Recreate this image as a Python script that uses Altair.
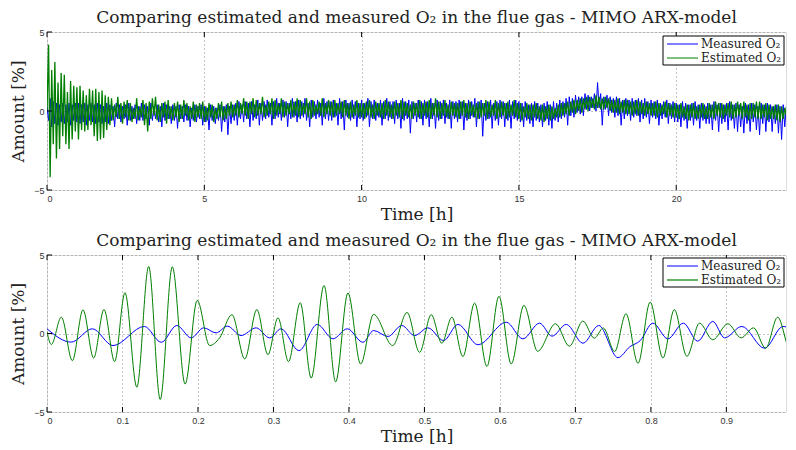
import altair as alt
import pandas as pd

SERIF = "DejaVu Serif"
SANS = "Liberation Sans"
BLUE = "#0000ff"
GREEN = "#007f00"
TITLE = "Comparing estimated and measured O\u2082 in the flue gas - MIMO ARX-model"

# ---------------- top panel: 0 .. 23.5 h, one value every 0.05 h (20 per hour row) ----------------
top_step = 0.05
top_measured = [
    0.3, -0.6, 0.8, -1.0, 0.6, -0.8, 0.5, -0.9, 0.4, -0.7, 0.5, -0.8, 0.4, -0.7, 0.5, -0.9, 0.4, -0.6, 0.5, -0.7,
    0.5, -0.8, 0.4, -0.7, 0.5, -0.9, 0.4, -0.6, 0.5, -0.7, 0.4, -0.8, 0.5, -0.7, 0.4, -0.8, 0.3, -0.7, 0.5, -0.8,
    0.4, -0.6, 0.3, -1.0, 0.5, -0.5, 0.4, -0.7, 0.3, -0.5, 0.4, -0.9, 0.5, -0.6, 0.3, -0.5, 0.4, -0.8, 0.3, -0.6,
    0.5, -0.6, 0.4, -0.5, 0.3, -0.9, 0.5, -0.6, 0.3, -0.5, 0.4, -0.7, 0.3, -1.0, 0.5, -0.6, 0.4, -0.5, 0.3, -0.8,
    0.4, -0.6, 0.3, -1.1, 0.4, -0.5, 0.3, -0.7, 0.4, -0.6, 0.3, -1.0, 0.2, -0.6, 0.4, -0.7, 0.3, -0.5, 0.4, -0.9,
    0.3, -0.7, 0.2, -1.2, 0.4, -0.6, 0.3, -0.8, 0.2, -0.6, 0.4, -1.3, 0.3, -0.7, 0.4, -1.5, 0.3, -0.8, 0.4, -0.6,
    0.5, -0.9, 0.6, -0.5, 0.4, -0.7, 0.6, -0.5, 0.5, -1.0, 0.6, -0.6, 0.4, -0.5, 0.7, -0.9, 0.5, -0.6, 0.6, -0.5,
    0.7, -0.4, 0.5, -0.9, 0.6, -0.5, 0.8, -0.4, 0.5, -0.6, 0.7, -0.4, 0.6, -1.0, 0.5, -0.5, 0.8, -0.4, 0.6, -0.7,
    0.7, -0.5, 0.6, -0.4, 0.8, -0.6, 0.5, -1.0, 0.7, -0.4, 0.6, -0.5, 0.7, -0.4, 0.5, -0.9, 0.8, -0.5, 0.6, -0.6,
    0.6, -0.6, 0.7, -0.4, 0.5, -0.9, 0.8, -0.5, 0.6, -1.2, 0.7, -0.4, 0.5, -0.6, 0.7, -0.5, 0.6, -1.0, 0.5, -0.5,
    0.7, -0.6, 0.5, -0.4, 0.8, -1.0, 0.6, -0.5, 0.7, -0.6, 0.5, -0.4, 0.7, -0.9, 0.6, -0.5, 0.8, -0.6, 0.6, -0.5,
    0.6, -0.8, 0.7, -0.5, 0.5, -1.1, 0.8, -0.6, 0.6, -0.5, 0.7, -1.4, 0.6, -0.5, 0.5, -0.7, 0.7, -0.5, 0.6, -0.9,
    0.7, -0.5, 0.6, -1.0, 0.8, -0.5, 0.5, -1.1, 0.7, -0.6, 0.6, -0.5, 0.7, -0.8, 0.5, -0.5, 0.7, -1.1, 0.6, -0.5,
    0.6, -0.7, 0.7, -0.5, 0.6, -1.2, 0.5, -0.6, 0.7, -0.5, 0.6, -0.4, 0.8, -1.0, 0.6, -0.5, 0.7, -1.6, 0.5, -0.6,
    0.6, -0.5, 0.7, -1.1, 0.5, -0.6, 0.6, -0.9, 0.7, -0.5, 0.6, -1.0, 0.5, -0.6, 0.7, -1.1, 0.6, -0.5, 0.7, -0.6,
    0.6, -0.7, 0.5, -1.0, 0.6, -0.6, 0.4, -0.8, 0.5, -1.0, 0.6, -0.6, 0.5, -0.7, 0.4, -1.0, 0.5, -0.6, 0.6, -0.9,
    0.4, -1.1, 0.6, -0.6, 0.5, -0.7, 0.7, -0.5, 0.6, -0.4, 0.8, -0.9, 0.9, -0.3, 0.8, -0.4, 1.0, -0.1, 0.9, -0.2,
    0.9, -0.3, 1.1, 0.1, 1.0, 0.0, 0.9, 0.2, 1.1, 0.0, 1.8, 0.2, 1.1, -0.9, 0.9, 0.1, 1.0, -0.3, 0.9, -0.1,
    0.8, -0.4, 0.9, -0.3, 0.8, -0.9, 0.7, -0.5, 0.8, -0.3, 0.7, -0.6, 0.8, -0.4, 0.7, -0.3, 0.8, -0.7, 0.7, -0.5,
    0.8, -0.4, 0.6, -0.8, 0.7, -0.4, 0.6, -0.5, 0.7, -0.9, 0.5, -0.5, 0.6, -0.4, 0.7, -0.8, 0.5, -0.5, 0.6, -0.7,
    0.5, -0.7, 0.4, -1.0, 0.6, -0.6, 0.5, -1.1, 0.4, -0.6, 0.5, -0.9, 0.6, -0.6, 0.4, -1.1, 0.5, -0.6, 0.4, -0.8,
    0.5, -0.8, 0.4, -1.2, 0.6, -0.6, 0.4, -1.3, 0.5, -0.8, 0.4, -0.7, 0.5, -1.2, 0.6, -0.6, 0.4, -1.1, 0.5, -1.3,
    0.4, -1.0, 0.3, -1.4, 0.5, -0.8, 0.4, -1.3, 0.5, -0.7, 0.4, -1.2, 0.3, -1.5, 0.5, -0.8, 0.4, -1.3, 0.5, -0.7,
    0.4, -1.3, 0.3, -0.8, 0.4, -1.4, 0.3, -1.8, 0.4, -1.0, 0.3,
]
top_estimated = [
    0.0, 4.2, -4.2, 2.6, -2.1, 3.1, -3.0, 1.8, -2.4, 2.4, -1.6, 2.3, -2.1, 1.2, -2.4, 1.9, -1.8, 1.6, -1.3, 1.5,
    -1.8, 1.6, -1.2, 1.3, -1.3, 1.0, -1.2, 1.4, -0.9, 1.3, -1.6, 1.4, -1.9, 1.2, -1.8, 1.3, -1.7, 1.0, -1.2, 0.9,
    -0.9, 0.8, -0.6, 0.4, -0.4, 0.9, -0.5, 0.5, -0.8, 0.6, -0.4, 0.7, -0.6, 0.5, -0.7, 0.2, -0.5, 0.8, -0.6, 0.3,
    -0.4, 0.7, -0.9, 0.5, -1.3, 0.6, -0.5, 0.8, -0.3, 0.9, -0.6, 0.4, -0.7, 0.5, -0.4, 0.6, -0.8, 0.7, -0.5, 0.3,
    -0.6, 0.5, -0.4, 0.6, -0.7, 0.4, -0.5, 0.7, -0.3, 0.5, -0.6, 0.3, -0.5, 0.6, -0.7, 0.4, -0.4, 0.5, -0.5, 0.6,
    -0.7, 0.3, -0.6, 0.5, -0.4, 0.4, -0.7, 0.2, -0.5, 0.5, -0.4, 0.6, -0.6, 0.3, -0.5, 0.5, -0.3, 0.6, -0.4, 0.4,
    -0.3, 0.7, -0.4, 0.5, -0.2, 0.8, -0.3, 0.6, -0.5, 0.6, -0.2, 0.8, -0.4, 0.7, -0.3, 0.5, -0.2, 0.9, -0.4, 0.4,
    -0.3, 0.6, -0.2, 0.8, -0.5, 0.7, -0.3, 0.5, -0.2, 0.8, -0.4, 0.6, -0.3, 0.5, -0.2, 0.7, -0.4, 0.6, -0.3, 0.8,
    -0.4, 0.7, -0.3, 0.5, -0.2, 0.8, -0.4, 0.6, -0.5, 0.7, -0.3, 0.4, -0.2, 0.6, -0.3, 0.8, -0.4, 0.5, -0.2, 0.7,
    -0.3, 0.6, -0.4, 0.7, -0.3, 0.5, -0.2, 0.6, -0.4, 0.7, -0.3, 0.5, -0.5, 0.6, -0.4, 0.4, -0.3, 0.7, -0.4, 0.5,
    -0.4, 0.5, -0.5, 0.6, -0.3, 0.7, -0.4, 0.4, -0.5, 0.6, -0.3, 0.5, -0.4, 0.5, -0.5, 0.7, -0.3, 0.6, -0.4, 0.4,
    -0.5, 0.6, -0.3, 0.5, -0.4, 0.7, -0.5, 0.6, -0.3, 0.5, -0.4, 0.4, -0.5, 0.6, -0.3, 0.5, -0.4, 0.7, -0.5, 0.5,
    -0.3, 0.6, -0.4, 0.7, -0.5, 0.5, -0.3, 0.8, -0.4, 0.6, -0.5, 0.5, -0.3, 0.7, -0.4, 0.4, -0.5, 0.6, -0.3, 0.5,
    -0.4, 0.5, -0.5, 0.6, -0.3, 0.7, -0.4, 0.5, -0.5, 0.6, -0.3, 0.4, -0.4, 0.5, -0.5, 0.6, -0.4, 0.5, -0.3, 0.7,
    -0.5, 0.6, -0.4, 0.4, -0.3, 0.7, -0.5, 0.5, -0.4, 0.6, -0.3, 0.5, -0.5, 0.6, -0.4, 0.4, -0.3, 0.7, -0.4, 0.5,
    -0.5, 0.5, -0.6, 0.3, -0.4, 0.5, -0.5, 0.4, -0.6, 0.4, -0.4, 0.5, -0.5, 0.3, -0.6, 0.4, -0.7, 0.3, -0.5, 0.4,
    -0.6, 0.3, -0.5, 0.2, -0.4, 0.4, -0.4, 0.5, -0.3, 0.5, -0.2, 0.6, -0.3, 0.6, -0.1, 0.7, -0.2, 0.7, 0.0, 0.8,
    -0.1, 0.8, 0.1, 0.9, 0.0, 0.9, 0.2, 0.8, 0.1, 1.0, 0.2, 0.9, 0.1, 0.8, 0.1, 0.9, 0.2, 0.8, 0.0, 0.7,
    -0.1, 0.7, -0.1, 0.8, -0.2, 0.6, -0.1, 0.7, -0.2, 0.7, -0.2, 0.6, -0.3, 0.6, -0.2, 0.7, -0.3, 0.6, -0.2, 0.5,
    -0.3, 0.6, -0.2, 0.5, -0.3, 0.5, -0.3, 0.6, -0.4, 0.5, -0.3, 0.4, -0.2, 0.6, -0.4, 0.5, -0.3, 0.4, -0.4, 0.5,
    -0.4, 0.4, -0.5, 0.5, -0.4, 0.3, -0.5, 0.4, -0.6, 0.4, -0.4, 0.5, -0.5, 0.3, -0.5, 0.4, -0.4, 0.5, -0.5, 0.3,
    -0.5, 0.5, -0.4, 0.4, -0.5, 0.6, -0.3, 0.5, -0.4, 0.5, -0.5, 0.4, -0.3, 0.5, -0.4, 0.6, -0.5, 0.4, -0.4, 0.6,
    -0.3, 0.5, -0.5, 0.6, -0.4, 0.4, -0.6, 0.5, -0.5, 0.5, -0.4, 0.6, -0.5, 0.6, -0.5, 0.4, -0.4, 0.5, -0.6, 0.4,
    -0.5, 0.3, -0.5, 0.4, -0.6, 0.4, -0.7, 0.3, -0.5, 0.2, -0.3,
]
top_xticks = [0, 5, 10, 15, 20]

# ---------------- bottom panel: first hour, turning points ----------------
bot_measured_t = [
    0.0, 0.032, 0.060, 0.0874, 0.129, 0.1514, 0.172, 0.191, 0.2075, 0.224,
    0.239, 0.257, 0.277, 0.295, 0.310, 0.3338, 0.358, 0.3788, 0.3978, 0.4185,
    0.4327, 0.4517, 0.470, 0.487, 0.5046, 0.5254, 0.5444, 0.571, 0.6084, 0.6305,
    0.6525, 0.669, 0.688, 0.710, 0.731, 0.7563, 0.772, 0.786, 0.8026, 0.8225,
    0.843, 0.862, 0.882, 0.8976, 0.9205, 0.9506, 0.975, 0.995,
]
bot_measured_v = [
    0.30, -0.55, 0.30, -0.77, 0.45, -0.56, 0.51, -0.28, 0.36, 0.04,
    0.47, -0.13, 0.36, -0.28, 0.30, -1.09, 0.58, -0.34, 0.30, -0.56,
    0.19, -0.19, 0.51, -0.13, 0.36, -0.45, 0.58, -0.72, 0.72, -0.34,
    0.66, -0.17, 0.58, -0.62, 0.51, -1.54, -0.85, -0.45, 0.66, -0.34,
    0.66, -0.49, 0.77, -0.28, 0.45, -0.94, 0.45, -0.10,
]
bot_estimated_t = [
    0.0, 0.0057, 0.019, 0.0336, 0.0477, 0.0618, 0.0755, 0.0896, 0.1033, 0.119,
    0.1347, 0.150, 0.166, 0.183, 0.199, 0.2155, 0.2287, 0.245, 0.262, 0.278,
    0.2927, 0.306, 0.320, 0.3355, 0.350, 0.367, 0.3824, 0.3987, 0.4155, 0.4327,
    0.458, 0.477, 0.4936, 0.509, 0.523, 0.5364, 0.551, 0.5665, 0.5828, 0.5987,
    0.615, 0.6318, 0.650, 0.6737, 0.692, 0.710, 0.725, 0.737, 0.752, 0.767,
    0.783, 0.799, 0.816, 0.831, 0.8477, 0.8645, 0.882, 0.902, 0.9196, 0.936,
    0.952, 0.968, 0.985, 0.995,
]
bot_estimated_v = [
    0.10, -0.70, 1.04, -1.73, 1.51, -1.56, 1.53, -1.79, 2.60, -3.42,
    4.27, -4.20, 4.25, -3.22, 2.11, -0.77, -0.28, 1.20, -1.62, 1.53,
    -1.35, 1.00, -1.79, 1.96, -2.84, 3.06, -3.08, 2.58, -1.94, 1.22,
    -0.77, 1.34, -1.20, 1.20, -0.62, 1.04, -1.47, 1.94, -2.10, 2.37,
    -1.94, 1.79, -1.13, 0.62, -0.81, 0.79, -0.30, 0.35, -1.15, 1.26,
    -1.90, 2.00, -1.56, 1.52, -1.45, 0.66, -0.40, 0.62, -0.28, 0.36,
    -0.94, 1.04, -1.09, 0.10,
]
bot_xticks = [0, 0.1, 0.2, 0.3, 0.4, 0.5, 0.6, 0.7, 0.8, 0.9]
y_ticks = [-5, 0, 5]

W = 739


def panel(meas_df, est_df, xdomain, xticks, height, interp, est_width, leg):
    xs = alt.Scale(domain=xdomain, nice=False, zero=False)
    ys = alt.Scale(domain=[-5, 5], nice=False, zero=False)
    xaxis = alt.Axis(values=xticks, format="~g", grid=True, gridDash=[1, 3],
                     gridColor="#8a8a8a", gridWidth=1, ticks=False, domain=False,
                     labelFont=SANS, labelFontSize=9, labelColor="#333",
                     labelPadding=4, title="Time [h]", titleFont=SERIF,
                     titleFontSize=17, titleFontWeight="normal",
                     titleColor="#222", titlePadding=3)
    yaxis = alt.Axis(values=y_ticks, format="~g", grid=True, gridDash=[1, 3],
                     gridColor="#8a8a8a", gridWidth=1, ticks=False, domain=False,
                     labelFont=SANS, labelFontSize=9, labelColor="#333",
                     labelPadding=3, title="Amount [%]", titleFont=SERIF,
                     titleFontSize=17, titleFontWeight="normal",
                     titleColor="#222", titlePadding=6)
    X = alt.X("t:Q", scale=xs, axis=xaxis)
    Y = alt.Y("v:Q", scale=ys, axis=yaxis)
    meas = alt.Chart(meas_df).mark_line(color=BLUE, strokeWidth=1, clip=True,
                                         interpolate=interp).encode(x=X, y=Y)
    est = alt.Chart(est_df).mark_line(color=GREEN, strokeWidth=est_width, clip=True,
                                       interpolate=interp).encode(x=X, y=Y)
    xt = pd.DataFrame({"t": xticks})
    yt = pd.DataFrame({"v": y_ticks})
    tick_top = alt.Chart(xt).mark_rule(color="black", strokeWidth=1).encode(
        x=X, y=alt.value(0), y2=alt.value(5))
    tick_bot = alt.Chart(xt).mark_rule(color="black", strokeWidth=1).encode(
        x=X, y=alt.value(height - 5), y2=alt.value(height))
    tick_left = alt.Chart(yt).mark_rule(color="black", strokeWidth=1).encode(
        y=Y, x=alt.value(0), x2=alt.value(5))

    one = pd.DataFrame({"a": [0]})
    y0, y1, r1, r2 = leg["box"]
    box = alt.Chart(one).mark_rect(fill="white", stroke="black", strokeWidth=1).encode(
        x=alt.value(616), x2=alt.value(737), y=alt.value(y0), y2=alt.value(y1))
    l1 = alt.Chart(one).mark_rule(color=leg["c1"], strokeWidth=leg["w1"]).encode(
        x=alt.value(620), x2=alt.value(651), y=alt.value(r1))
    l2 = alt.Chart(one).mark_rule(color=leg["c2"], strokeWidth=leg["w2"]).encode(
        x=alt.value(620), x2=alt.value(651), y=alt.value(r2))
    t1 = alt.Chart(one).mark_text(text="Measured O\u2082", align="left", baseline="middle",
                                  font=SERIF, fontSize=12, color="#222").encode(
        x=alt.value(654), y=alt.value(r1))
    t2 = alt.Chart(one).mark_text(text="Estimated O\u2082", align="left", baseline="middle",
                                  font=SERIF, fontSize=12, color="#222").encode(
        x=alt.value(654), y=alt.value(r2))

    return alt.layer(meas, est, tick_top, tick_bot, tick_left,
                     box, l1, l2, t1, t2).properties(
        width=W, height=height,
        title=alt.TitleParams(TITLE, font=SERIF, fontSize=17, fontWeight="normal",
                              color="#222", offset=1, anchor="middle"))


top_df_m = pd.DataFrame({"t": [i * top_step for i in range(len(top_measured))],
                         "v": top_measured})
top_df_e = pd.DataFrame({"t": [i * top_step for i in range(len(top_estimated))],
                         "v": top_estimated})
bot_df_m = pd.DataFrame({"t": bot_measured_t, "v": bot_measured_v})
bot_df_e = pd.DataFrame({"t": bot_estimated_t, "v": bot_estimated_v})

top = panel(top_df_m, top_df_e, [0, 23.49], top_xticks, 158, "linear", 1.3,
            {"box": (4, 33, 12, 26), "c1": "#7f7fff", "w1": 2, "c2": GREEN, "w2": 1})
bottom = panel(bot_df_m, bot_df_e, [0, 0.979], bot_xticks, 157, "monotone", 1,
               {"box": (3, 32, 11, 25), "c1": BLUE, "w1": 1, "c2": "#66b366", "w2": 2})

chart = alt.vconcat(top, bottom, spacing=8).properties(
    padding={"left": 1, "top": 0, "right": 0, "bottom": 0}
).configure_view(stroke="black", strokeWidth=1.5).configure(background="white")

chart.save("out.html", embed_options={"renderer": "svg", "actions": False})
